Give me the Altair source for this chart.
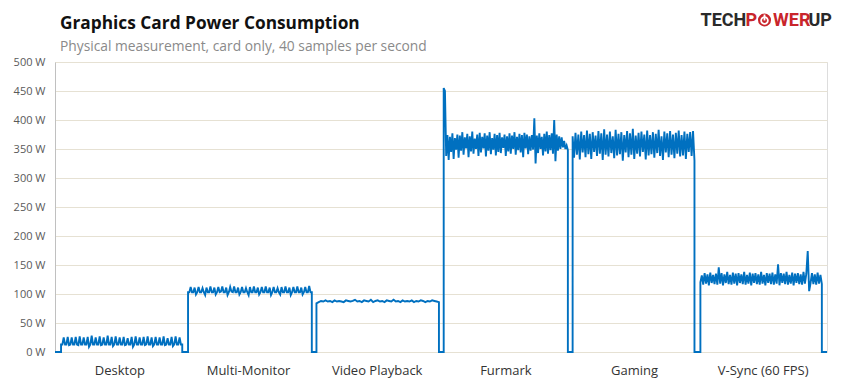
import altair as alt
import pandas as pd

categories = ["Desktop", "Multi-Monitor", "Video Playback", "Furmark", "Gaming", "V-Sync (60 FPS)"]

# time (in category-width units) where each test's trace rises from 0 W and drops back to 0 W
seg_start = [0.047, 1.034, 2.032, 3.021, 4.023, 5.016]
seg_end = [0.989, 1.996, 2.984, 3.986, 4.970, 5.960]

desktop = [13, 13, 25, 13, 13, 26, 12, 13, 25, 13, 13, 26, 13, 12, 27, 13, 13, 25, 13, 13, 26, 9, 13, 28,
           13, 13, 25, 13, 13, 27, 12, 13, 25, 13, 13, 28, 13, 13, 26, 10, 13, 27, 13, 13, 25, 13, 13, 26,
           12, 13, 24, 13, 13, 26, 9, 13, 27, 13, 13, 25, 13, 13, 26, 12, 13, 27, 13, 13, 25, 10, 13, 26,
           13, 13, 25, 13, 13, 27, 12, 13, 24, 13, 13, 26, 10, 13, 27, 13, 13, 25, 13, 13]

multi_monitor = [103, 103, 112, 103, 103, 111, 99, 103, 112, 103, 103, 110, 103, 98, 111, 103, 103, 113,
                 103, 103, 111, 99, 103, 112, 103, 104, 113, 103, 103, 111, 98, 103, 112, 104, 103, 113,
                 103, 103, 111, 99, 103, 112, 103, 103, 110, 103, 98, 112, 103, 103, 113, 103, 103, 111,
                 99, 103, 112, 103, 103, 113, 103, 103, 111, 98, 103, 112, 103, 103, 110, 103, 99, 112,
                 103, 103, 113, 103, 103, 111, 98, 103, 112, 103, 103, 113, 103, 103, 111, 99, 103, 112,
                 103, 103, 114, 103, 103]

video_playback = [84, 86, 88, 87, 89, 87, 88, 86, 89, 87, 88, 87, 86, 89, 88, 87, 88, 90, 87, 88, 86, 89,
                  88, 87, 90, 86, 88, 89, 87, 88, 86, 89, 88, 87, 90, 87, 88, 86, 89, 87, 88, 87, 89, 86,
                  88, 87, 89, 88, 86, 88, 87, 89, 88, 87, 86]

furmark = [455, 450, 338, 374, 331, 371, 345, 377, 333, 369, 349, 375, 335, 373, 347, 379, 340, 370, 351,
           376, 336, 372, 346, 380, 342, 368, 350, 375, 338, 378, 344, 371, 351, 377, 337, 373, 347, 379,
           341, 369, 349, 376, 339, 374, 345, 378, 343, 370, 352, 375, 338, 372, 346, 377, 342, 373, 350,
           379, 340, 371, 348, 376, 344, 374, 336, 378, 351, 375, 341, 372, 347, 374, 349, 403, 325, 373,
           343, 377, 350, 371, 339, 376, 346, 380, 342, 374, 348, 377, 342, 400, 329, 375, 347, 372, 350,
           370, 353, 364, 350, 356, 348]

gaming = [372, 335, 378, 340, 375, 332, 380, 344, 374, 336, 382, 341, 376, 333, 379, 345, 373, 338, 381,
          342, 377, 331, 384, 340, 375, 337, 380, 343, 372, 334, 383, 339, 376, 341, 379, 330, 374, 344,
          381, 336, 377, 340, 385, 333, 373, 342, 378, 337, 380, 345, 375, 332, 382, 339, 374, 341, 379,
          335, 376, 343, 383, 338, 372, 331, 380, 344, 377, 336, 381, 340, 375, 334, 378, 342, 382, 337,
          374, 339, 380, 333, 376, 345, 379, 338, 381, 330]

vsync = [120, 132, 116, 136, 118, 134, 115, 137, 119, 133, 117, 135, 116, 146, 118, 136, 115, 134, 119,
         138, 117, 133, 116, 137, 118, 135, 115, 136, 119, 134, 117, 138, 116, 133, 118, 137, 115, 135,
         119, 136, 117, 134, 116, 138, 118, 133, 115, 136, 119, 135, 117, 137, 116, 134, 118, 151, 115,
         136, 119, 135, 117, 138, 116, 133, 118, 137, 115, 135, 119, 136, 117, 134, 116, 138, 118, 135,
         174, 105, 119, 136, 117, 134, 116, 137, 118, 133, 117]

y_ticks = [0, 50, 100, 150, 200, 250, 300, 350, 400, 450, 500]

title_text = "Graphics Card Power Consumption"
subtitle_text = "Physical measurement, card only, 40 samples per second"

series = [desktop, multi_monitor, video_playback, furmark, gaming, vsync]

# build the continuous trace: 0 W between tests, the measured samples during each test
rows = [(0.0, 0)]
for s, e, vals in zip(seg_start, seg_end, series):
    rows.append((s, 0))
    n = len(vals)
    for j, v in enumerate(vals):
        rows.append((s + j * (e - s) / (n - 1), v))
    rows.append((e, 0))
rows.append((float(len(categories)), 0))
df = pd.DataFrame(rows, columns=["t", "w"])
df["i"] = range(len(df))

label_expr = "[" + ",".join("'" + c + "'" for c in categories) + "][floor(datum.value)]"

FONT = "Open Sans"
GRID = "#e6e1d3"

line = alt.Chart(df).mark_line(color="#0070C0", strokeWidth=1.9, clip=False).encode(
    x=alt.X("t:Q", scale=alt.Scale(domain=[0, len(categories)], nice=False, zero=False),
            axis=alt.Axis(values=[k + 0.5 for k in range(len(categories))], labelExpr=label_expr,
                          title=None, ticks=False, grid=False, domain=False, labelPadding=12,
                          labelFont=FONT, labelFontSize=13, labelColor="#333333")),
    y=alt.Y("w:Q", scale=alt.Scale(domain=[0, 500], nice=False),
            axis=alt.Axis(values=y_ticks, labelExpr="datum.value + ' W'", title=None, ticks=False,
                          grid=True, gridColor=GRID, gridWidth=1, domain=True, domainColor="#c0c0c0",
                          labelPadding=10, labelFont=FONT, labelFontSize=11, labelColor="#595959")),
    order="i:Q",
)

one = pd.DataFrame({"a": [0]})

def txt(text, x, y, color, size, weight="normal", font=FONT):
    return alt.Chart(one).mark_text(
        font=font, fontSize=size, fontWeight=weight, align="left", baseline="alphabetic",
        color=color, x=x, y=y,
    ).encode(text=alt.value(text))

title = txt(title_text, 5, -33.5, "#111111", 17.3, "bold")
subtitle = txt(subtitle_text, 5, -11.5, "#8a8a8a", 13.8)

LOGO_Y = -35.8
tech = txt("TECH", 645.5, LOGO_Y, "#2a2a2a", 18, "bold", "Roboto")
p = txt("P", 690.5, LOGO_Y, "#c9252b", 18, "bold", "Roboto")
wer = txt("WER", 718, LOGO_Y, "#c9252b", 18, "bold", "Roboto")
up = txt("UP", 753.5, LOGO_Y, "#2a2a2a", 18, "bold", "Roboto")

icon = alt.Chart(one).mark_point(shape="circle", filled=True, color="#c9252b", size=170, opacity=1).encode(
    x=alt.value(709.5), y=alt.value(-42))
ring = alt.Chart(one).mark_point(shape="circle", filled=False, color="white", size=45, strokeWidth=1.8,
                                 opacity=1).encode(x=alt.value(709.5), y=alt.value(-41.5))
bar = alt.Chart(one).mark_rule(color="white", strokeWidth=1.8).encode(
    x=alt.value(709.5), y=alt.value(-47.5), y2=alt.value(-41.5))

chart = alt.layer(line, title, subtitle, tech, p, wer, up, icon, ring, bar).properties(
    width=772,
    height=290,
    autosize=alt.AutoSizeParams(type="none"),
    padding={"left": 47, "top": 54, "right": 6, "bottom": 26},
).configure_view(stroke=GRID, fill="#fafafa").configure(background="white")

chart.save("out.html", embed_options={"renderer": "svg", "actions": False})
